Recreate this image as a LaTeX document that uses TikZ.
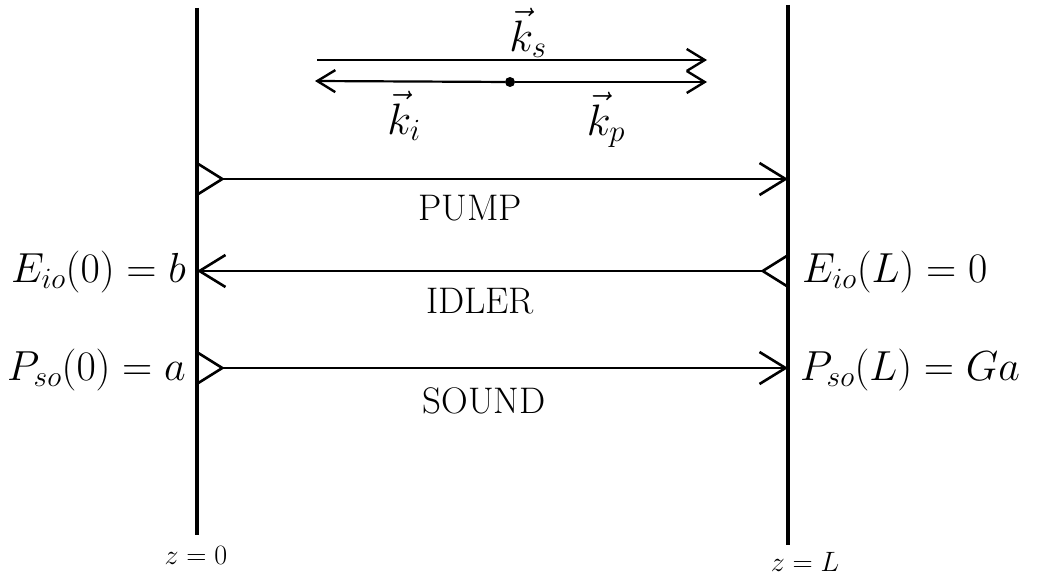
\RequirePackage{fix-cm}
\documentclass[tikz,border=0pt]{standalone}
\usetikzlibrary{arrows.meta}
\begin{document}
\begin{tikzpicture}[x=1pt,y=-1pt,
  wall/.style={line width=3.5pt},
  wave/.style={line width=2.4pt,{Straight Barb[reversed,length=24pt,width=30pt,line width=2.6pt]}-{Straight Barb[length=26pt,width=32pt,line width=2.6pt]}},
  kvec/.style={line width=2.2pt,-{Straight Barb[length=18pt,width=22pt,line width=2.4pt]}},
  lab/.style={font=\fontsize{42}{48}\selectfont, inner sep=0pt},
  klab/.style={font=\fontsize{44}{50}\selectfont, inner sep=0pt},
  wname/.style={font=\fontsize{37}{42}\selectfont, inner sep=0pt},
  zlab/.style={font=\fontsize{28}{32}\selectfont, inner sep=0pt}]
\useasboundingbox (0,0) rectangle (1049,580);
% walls
\coordinate (wLtop) at (197,8);
\coordinate (wLbot) at (197,535);
\coordinate (wRtop) at (788,5);
\coordinate (wRbot) at (788,545);
\draw[wall] (wLtop) -- (wLbot);
\draw[wall] (wRtop) -- (wRbot);
% wave-vector diagram
\coordinate (ksA) at (317,60);
\coordinate (ksB) at (707,60);
\coordinate (kiEnd) at (315,81);
\coordinate (kpEnd) at (707,82);
\node[circle,fill,inner sep=0pt,minimum size=10pt] (dot) at (510,82) {};
\draw[kvec] (ksA) -- (ksB);
\draw[kvec] (dot) -- (kiEnd);
\draw[kvec] (dot) -- (kpEnd);
\node[klab] (ks) at (528,33) {$\vec{k}_s$};
\node[klab] (ki) at (404,116) {$\vec{k}_i$};
\node[klab] (kp) at (606,120) {$\vec{k}_p$};
% waves
\coordinate (pumpL) at (197,179);
\coordinate (pumpR) at (788,179);
\coordinate (idlL) at (197,271);
\coordinate (idlR) at (788,271);
\coordinate (sndL) at (197,368);
\coordinate (sndR) at (788,368);
\draw[wave] (pumpL) -- (pumpR);
\draw[wave] (idlR) -- (idlL);
\draw[wave] (sndL) -- (sndR);
\node[wname] (pump) at (470,208) {PUMP};
\node[wname] (idler) at (480,301) {IDLER};
\node[wname] (sound) at (484,401) {SOUND};
% boundary values
\node[lab,anchor=east] (eL) at (186,272) {$E_{io}(0)=b$};
\node[lab,anchor=east] (pL) at (186,370) {$P_{so}(0)=a$};
\node[lab,anchor=west] (eR) at (802,272) {$E_{io}(L)=0$};
\node[lab,anchor=west] (pR) at (800,370) {$P_{so}(L)=Ga$};
% positions
\node[zlab] (z0) at (196,555) {$z=0$};
\node[zlab] (zL) at (805,562) {$z=L$};
\end{tikzpicture}
\end{document}
